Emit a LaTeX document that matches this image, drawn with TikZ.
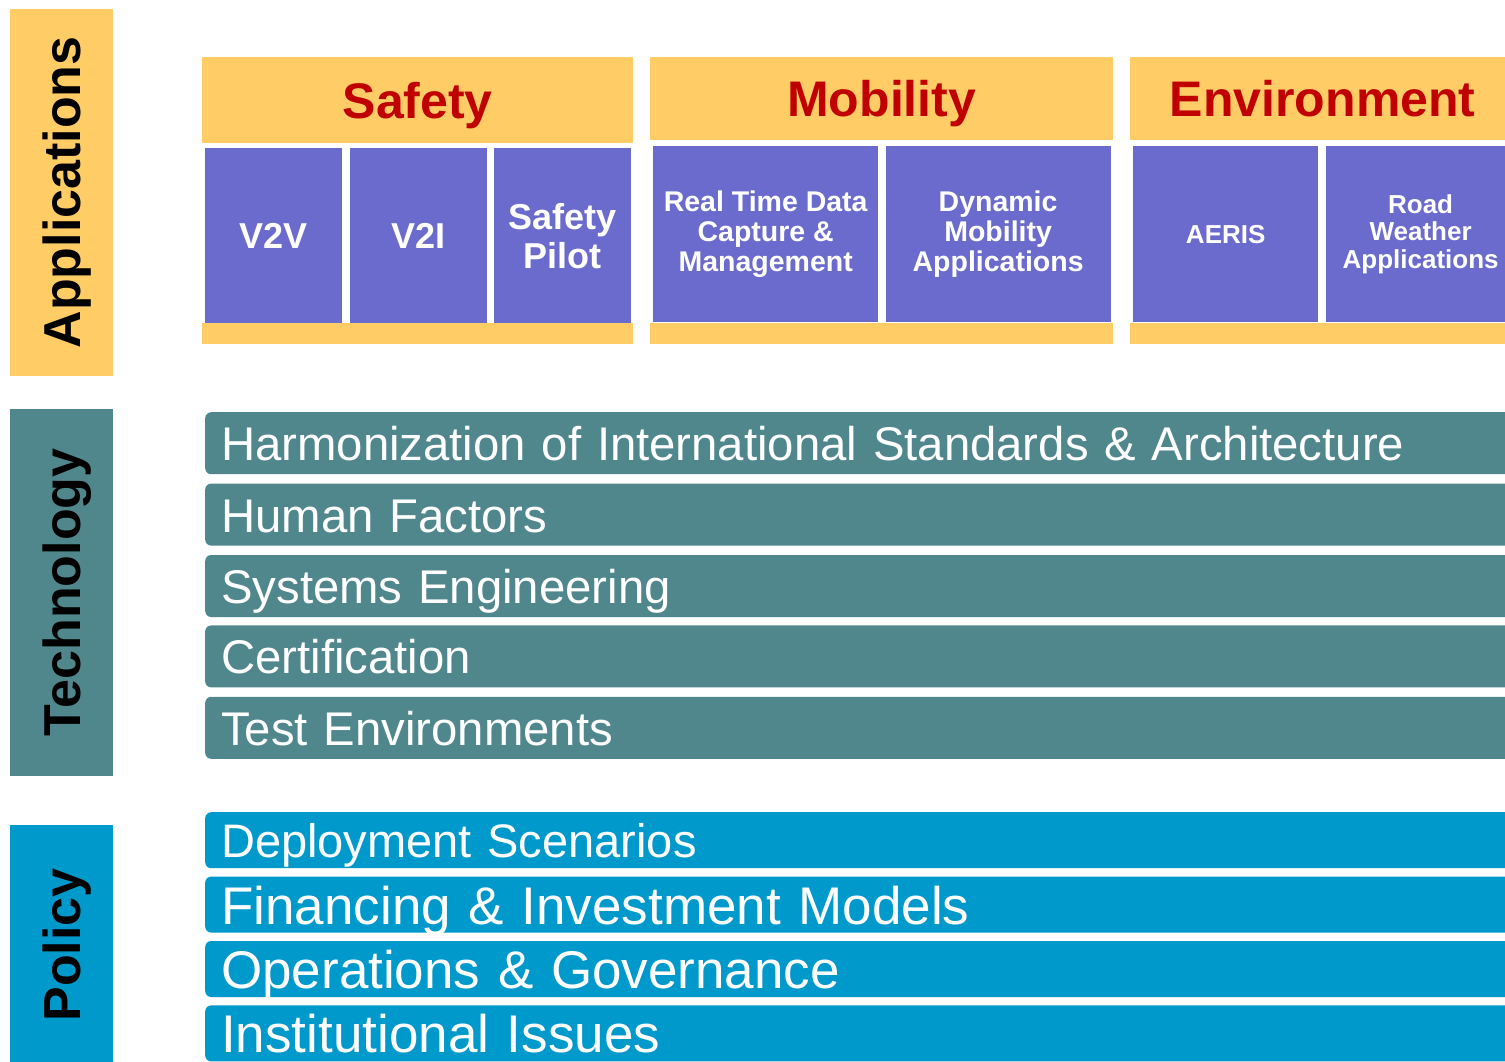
\documentclass[tikz,border=0pt]{standalone}
\usepackage{fontspec}
\setmainfont{Liberation Sans}
\usetikzlibrary{positioning}
\definecolor{appyellow}{HTML}{FFCC66}
\definecolor{apppurple}{HTML}{6B6BCE}
\definecolor{techteal}{HTML}{50878D}
\definecolor{policyblue}{HTML}{0099CC}
\definecolor{headred}{HTML}{C00000}
\tikzstyle{layer} = [rectangle, rotate=90, minimum height=103, inner sep=0pt,
    text height=37pt, text depth=0pt, font=\fontsize{52}{60}\selectfont\bfseries]
\tikzstyle{header} = [rectangle, fill=appyellow, inner sep=0pt, minimum height=83,
    text height=36pt, text depth=0pt, text=headred, font=\fontsize{50}{60}\selectfont\bfseries]
\tikzstyle{footer} = [rectangle, fill=appyellow, inner sep=0pt, minimum height=21]
\tikzstyle{app} = [rectangle, fill=apppurple, inner sep=0pt, minimum height=176,
    text=white, align=center]
\tikzstyle{safetyapp} = [app, minimum width=137, font=\fontsize{36}{39}\selectfont\bfseries]
\tikzstyle{mobilityapp} = [app, minimum width=225, font=\fontsize{28.5}{30}\selectfont\bfseries]
\tikzstyle{envapp} = [app, font=\fontsize{26}{27.5}\selectfont\bfseries]
\tikzstyle{bar} = [rectangle, rounded corners=6pt, inner xsep=16pt, inner ysep=0pt,
    text width=1290pt, align=left, text=white, text depth=0pt]
\tikzstyle{techbar} = [bar, fill=techteal, minimum height=62, text height=35pt,
    font=\fontsize{47.3}{56}\selectfont]
\tikzstyle{policybar} = [bar, fill=policyblue, minimum height=56, text height=39pt,
    font=\fontsize{53}{60}\selectfont]

\begin{document}
\begin{tikzpicture}[x=1pt, y=-1pt]
    \useasboundingbox (0,0) rectangle (1505,1061);
    % Layer labels
    \node [layer, fill=appyellow, minimum width=367] (applications) at (61.5,192.5) {Applications};
    \node [layer, fill=techteal, minimum width=367] (technology) at (61.5,592.5) {Technology};
    \node [layer, fill=policyblue, minimum width=240] (policy) at (61.5,945) {Policy};

    % Application areas
    \node [header, anchor=north west, minimum width=431, minimum height=86] (safety) at (202,57) {Safety};
    \node [header, anchor=north west, minimum width=463] (mobility) at (650,57) {Mobility};
    \node [header, anchor=north west, minimum width=385] (environment) at (1130,57) {Environment};

    \node [safetyapp, anchor=north west, minimum height=175] (v2v) at (205,148) {V2V};
    \node [safetyapp, right=7pt of v2v] (v2i) {V2I};
    \node [safetyapp, right=7pt of v2i] (safetypilot) {Safety\\Pilot};

    \node [mobilityapp, anchor=north west] (realtime) at (653,146) {Real Time Data\\Capture \&\\Management};
    \node [mobilityapp, right=7pt of realtime] (dynamic) {Dynamic\\Mobility\\Applications};

    \node [envapp, anchor=north west, minimum width=185] (aeris) at (1133,146) {AERIS};
    \node [envapp, right=7pt of aeris, minimum width=190] (roadweather) {Road\\Weather\\Applications};

    \node [footer, anchor=north west, minimum width=431] (safetyfoot) at (202,323) {};
    \node [footer, anchor=north west, minimum width=463] (mobilityfoot) at (650,323) {};
    \node [footer, anchor=north west, minimum width=385] (environmentfoot) at (1130,323) {};

    % Technology
    \node [techbar, anchor=north west] (harmonization) at (205,412) {Harmonization of International Standards \& Architecture};
    \node [techbar, below=9pt of harmonization] (humanfactors) {Human Factors};
    \node [techbar, below=9pt of humanfactors] (systems) {Systems Engineering};
    \node [techbar, below=8pt of systems] (certification) {Certification};
    \node [techbar, below=9pt of certification] (testenv) {Test Environments};

    % Policy
    \node [policybar, anchor=north west, text height=35pt, font=\fontsize{47}{56}\selectfont] (deployment) at (205,812) {Deployment Scenarios};
    \node [policybar, below=8pt of deployment] (financing) {Financing \& Investment Models};
    \node [policybar, below=8pt of financing] (operations) {Operations \& Governance};
    \node [policybar, below=8pt of operations] (institutional) {Institutional Issues};
\end{tikzpicture}
\end{document}
